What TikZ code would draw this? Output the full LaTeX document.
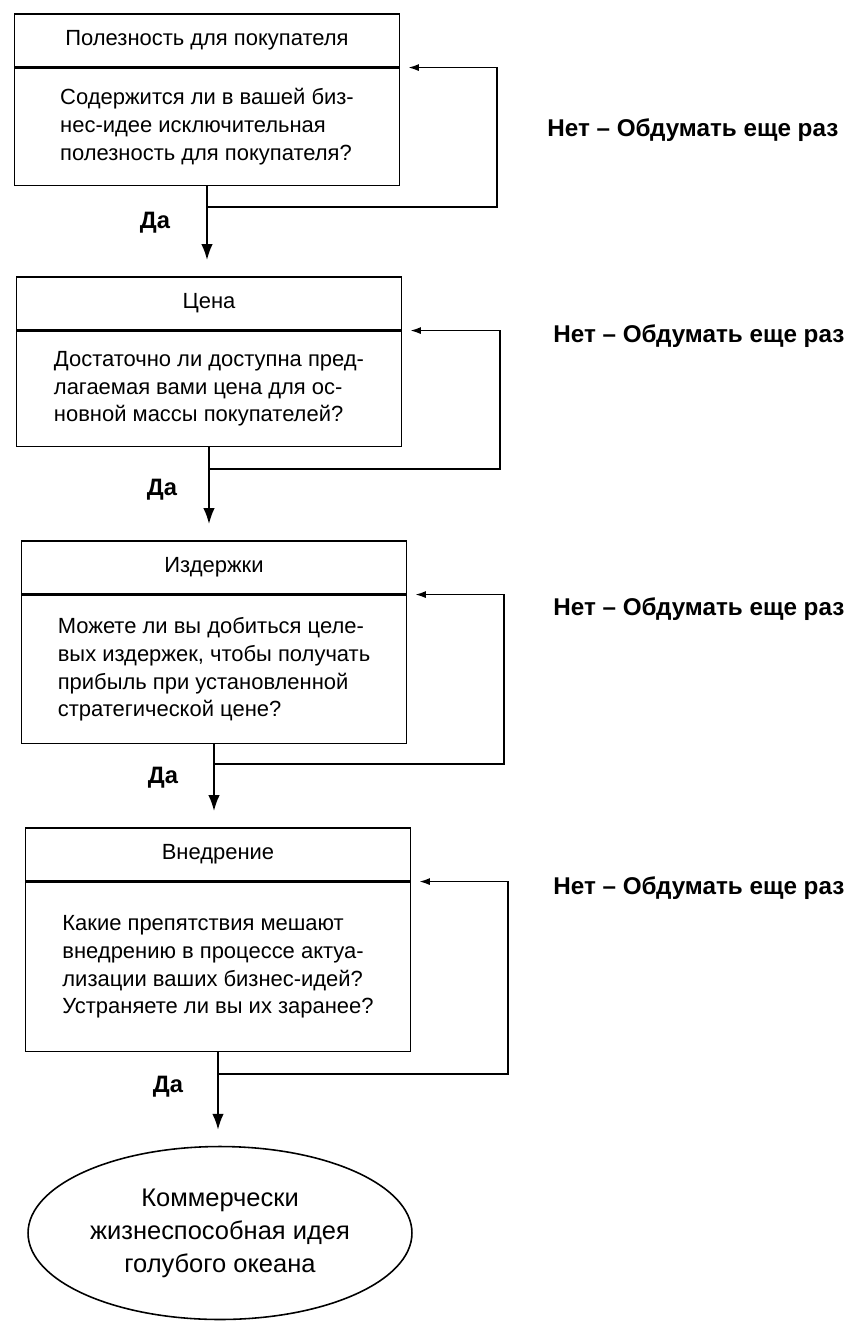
\documentclass[tikz,border=0pt]{standalone}
\usepackage{fontspec}
\setmainfont{Liberation Sans}
\usetikzlibrary{positioning,shapes.geometric,arrows.meta}

\tikzset{
  head/.style={draw, line width=0.9pt, minimum width=7.7cm, minimum height=1.06cm,
    inner sep=0pt, anchor=north, font=\fontsize{12.5}{15.8}\selectfont},
  ask/.style={draw, line width=0.9pt, minimum width=7.7cm, inner sep=0pt,
    align=left, below=0pt of #1, font=\fontsize{12.5}{15.8}\selectfont},
  go/.style={-{Latex[length=9pt,width=6.5pt]}, line width=1pt, shorten >=0.32cm},
  back/.style={-{Latex[length=6pt,width=4pt]}, line width=0.9pt, shorten >=0.16cm},
  yes/.style={font=\bfseries\fontsize{13.5}{16}\selectfont},
  no/.style={anchor=west, inner sep=0pt, font=\bfseries\fontsize{13.8}{16}\selectfont},
  goal/.style={draw, ellipse, line width=0.9pt, minimum width=7.68cm, minimum height=3.46cm,
    inner sep=0pt, align=center, font=\fontsize{14.5}{18.8}\selectfont}
}

\begin{document}
\begin{tikzpicture}[x=0.02cm, y=-0.02cm]
\useasboundingbox (0,0) rectangle (847,1321);
\path (207,13) node[head] (t1) {Полезность для покупателя}
      (209,276) node[head] (t2) {Цена}
      (214,540) node[head] (t3) {Издержки}
      (218,827) node[head] (t4) {Внедрение}
      (220,1233) node[goal] (idea) {Коммерчески\\жизнеспособная идея\\голубого океана}
      ;
\node[ask=t1, minimum height=2.34cm] (q1) {Содержится ли в вашей биз-\\нес-идее исключительная\\полезность для покупателя?};
\node[ask=t2, minimum height=2.30cm] (q2) {Достаточно ли доступна пред-\\лагаемая вами цена для ос-\\новной массы покупателей?};
\node[ask=t3, minimum height=2.96cm] (q3) {Можете ли вы добиться целе-\\вых издержек, чтобы получать\\прибыль при установленной\\стратегической цене?};
\node[ask=t4, minimum height=3.38cm] (q4) {Какие препятствия мешают\\внедрению в процессе актуа-\\лизации ваших бизнес-идей?\\Устраняете ли вы их заранее?};

\path (155,223) node[yes] (y1) {Да}
      (162,490) node[yes] (y2) {Да}
      (163,778) node[yes] (y3) {Да}
      (168,1087) node[yes] (y4) {Да}
      (547,130) node[no] (n1) {Нет – Обдумать еще раз}
      (553,336) node[no] (n2) {Нет – Обдумать еще раз}
      (553,609) node[no] (n3) {Нет – Обдумать еще раз}
      (553,888) node[no] (n4) {Нет – Обдумать еще раз}
      ;

\coordinate (j1) at ([yshift=-0.42cm]q1.south);
\coordinate (j2) at ([yshift=-0.44cm]q2.south);
\coordinate (j3) at ([yshift=-0.40cm]q3.south);
\coordinate (j4) at ([yshift=-0.44cm]q4.south);

\draw [go] (node cs:name=q1,anchor=south) -- (q1.south |- t2.north);
\draw [go] (node cs:name=q2,anchor=south) -- (q2.south |- t3.north);
\draw [go] (node cs:name=q3,anchor=south) -- (q3.south |- t4.north);
\draw [go] (node cs:name=q4,anchor=south) -- (q4.south |- idea.north);

\draw [back] (j1) -- ++(290,0) |- (q1.north east);
\draw [back] (j2) -- ++(291,0) |- (q2.north east);
\draw [back] (j3) -- ++(290,0) |- (q3.north east);
\draw [back] (j4) -- ++(290,0) |- (q4.north east);
\end{tikzpicture}
\end{document}
